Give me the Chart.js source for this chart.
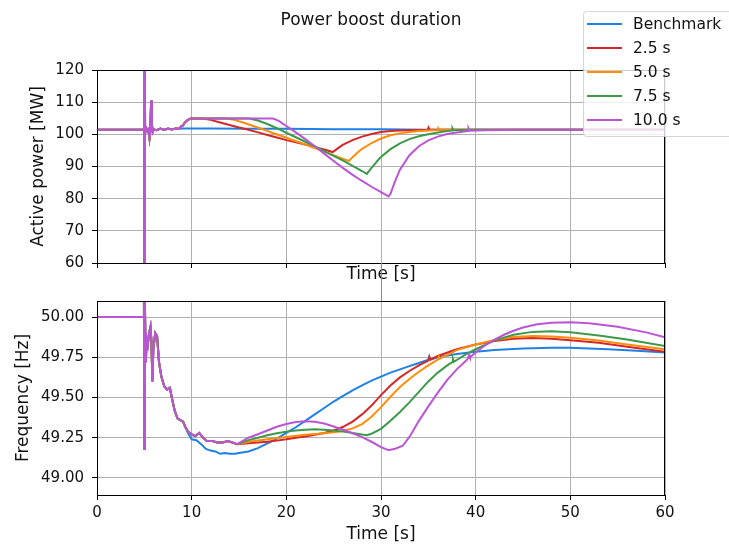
<!DOCTYPE html>
<html>
<head>
<meta charset="utf-8">
<script src="https://cdn.jsdelivr.net/npm/chart.js@4.4.1/dist/chart.umd.min.js"></script>
<style>
  html, body { margin: 0; padding: 0; background: #ffffff; }
  #wrap { position: relative; width: 729px; height: 544px; }
  canvas { position: absolute; left: 0; top: 0; }
</style>
</head>
<body>
<div id="wrap">
  <canvas id="c1" width="729" height="544"></canvas>
  <canvas id="c2" width="729" height="544"></canvas>
</div>
<script>
// ---------------- DATA ----------------
const chartTitle = 'Power boost duration';
const seriesNames = ['Benchmark', '2.5 s', '5.0 s', '7.5 s', '10.0 s'];
const timeTicks = [0, 10, 20, 30, 40, 50, 60];
const powerTicks = [60, 70, 80, 90, 100, 110, 120];
const freqTicks = [49.00, 49.25, 49.50, 49.75, 50.00];

// common transient (all series)
const transientTime  = [0, 4.95, 4.98, 5.0, 5.03, 5.08, 5.2, 5.32, 5.45, 5.55, 5.62, 5.72, 5.8, 5.9, 6.0, 6.3, 6.7, 7.1, 7.5, 7.9, 8.3, 8.7];
const transientPower = [101.4, 101.4, 101.0, 30, 150, 101.5, 102.0, 100.9, 101.5, 98.8, 100.5, 110.5, 103.0, 100.8, 101.5, 101.3, 101.8, 101.4, 101.8, 101.5, 101.8, 101.7];

const freqTransientTime = [0, 4.93, 4.96, 4.99, 5.02, 5.1, 5.17, 5.22, 5.35, 5.5, 5.65, 5.75, 5.85, 5.95, 6.15, 6.35, 6.55, 6.8, 7.1, 7.4, 7.7, 7.9, 8.2, 8.5, 8.8, 9.1, 9.3];
const freqTransient     = [50.0, 50.0, 50.2, 49.18, 50.3, 49.9, 49.72, 49.85, 49.82, 49.9, 49.94, 49.85, 49.6, 49.8, 49.9, 49.88, 49.72, 49.63, 49.57, 49.55, 49.56, 49.5, 49.42, 49.37, 49.36, 49.35, 49.32];

// boost rise, common to all boosted series
const boostRiseTime  = [8.9, 9.1, 9.3, 9.6, 9.9];
const boostRisePower = [102.6, 102.8, 103.8, 104.5, 104.9];
const boostFreqTime  = [9.6, 10.0, 10.4, 10.8, 11.2, 11.6, 12.2, 12.7, 13.3, 13.8, 14.3, 14.8];
const boostFreq      = [49.29, 49.27, 49.26, 49.28, 49.25, 49.23, 49.23, 49.22, 49.22, 49.23, 49.22, 49.21];

// Benchmark
const benchPowerTime = [9.0, 12, 16, 20, 25, 30, 34.9, 35.0, 35.1, 40, 50, 60];
const benchPower     = [101.8, 101.8, 101.75, 101.7, 101.6, 101.55, 101.45, 101.9, 101.4, 101.4, 101.4, 101.4];
const benchFreqTime  = [9.6, 10.0, 10.5, 11, 11.5, 12, 12.5, 13, 13.5, 14, 14.6, 15, 16, 17, 18, 19, 20, 21, 22, 23, 24, 25, 26, 27, 28, 29, 30, 31, 32, 33, 34, 35, 35.1, 35.2, 36, 38, 40, 42, 45, 48, 50, 54, 57, 60];
const benchFreq      = [49.28, 49.24, 49.235, 49.21, 49.18, 49.17, 49.165, 49.15, 49.155, 49.15, 49.15, 49.155, 49.165, 49.185, 49.215, 49.245, 49.28, 49.315, 49.355, 49.395, 49.435, 49.475, 49.51, 49.545, 49.575, 49.605, 49.63, 49.655, 49.675, 49.695, 49.715, 49.735, 49.755, 49.735, 49.75, 49.77, 49.785, 49.795, 49.805, 49.81, 49.81, 49.8, 49.79, 49.78];

// 2.5 s
const b25PowerTime = [11.1, 12, 13, 14, 15, 16, 17, 18, 19, 20, 21, 22, 23, 24, 24.9, 25.5, 26, 27, 28, 29, 30, 31, 32, 33, 34, 35, 35.05, 35.15, 60];
const b25Power     = [104.9, 104.5, 103.7, 102.9, 102.1, 101.4, 100.6, 99.8, 99.0, 98.2, 97.5, 96.8, 96.0, 95.3, 94.5, 95.8, 96.8, 98.2, 99.3, 100.1, 100.7, 101.0, 101.2, 101.3, 101.35, 101.4, 101.9, 101.4, 101.4];
const b25FreqTime  = [16, 17, 18, 19, 20, 21, 22, 23, 24, 25, 26, 27, 28, 29, 30, 31, 32, 33, 34, 35, 35.1, 35.2, 36, 38, 40, 42, 44, 46, 48, 50, 53, 56, 60];
const b25Freq      = [49.215, 49.22, 49.225, 49.232, 49.24, 49.25, 49.258, 49.268, 49.28, 49.295, 49.318, 49.35, 49.395, 49.45, 49.515, 49.575, 49.625, 49.665, 49.7, 49.73, 49.75, 49.735, 49.758, 49.8, 49.83, 49.852, 49.865, 49.87, 49.866, 49.856, 49.84, 49.815, 49.785];

// 5.0 s
const b50PowerTime = [13.6, 14.5, 15.5, 16.5, 17.5, 18.5, 19.5, 20.5, 21.5, 22.5, 23.5, 24.5, 25.5, 26.6, 27, 27.5, 28, 29, 30, 31, 32, 33, 34, 35, 36, 36.05, 36.15, 60];
const b50Power     = [104.9, 104.5, 103.6, 102.6, 101.6, 100.5, 99.5, 98.4, 97.4, 96.3, 95.2, 94.1, 92.9, 91.7, 92.9, 94.3, 95.5, 97.3, 98.7, 99.7, 100.3, 100.7, 101.0, 101.2, 101.35, 101.9, 101.4, 101.4];
const b50FreqTime  = [16, 18, 20, 22, 24, 25, 26, 27, 28, 29, 30, 31, 32, 33, 34, 35, 36, 36.1, 36.2, 38, 40, 42, 44, 46, 48, 50, 53, 56, 60];
const b50Freq      = [49.225, 49.24, 49.255, 49.268, 49.278, 49.284, 49.292, 49.308, 49.335, 49.38, 49.44, 49.505, 49.565, 49.615, 49.66, 49.7, 49.735, 49.755, 49.74, 49.795, 49.83, 49.858, 49.876, 49.882, 49.88, 49.872, 49.855, 49.83, 49.8];

// 7.5 s
const b75PowerTime = [16.1, 17, 18, 19, 20, 21, 22, 23, 24, 25, 26, 27, 28, 28.5, 29, 29.9, 31, 32, 33, 34, 35, 36, 37, 37.5, 37.55, 37.65, 40, 60];
const b75Power     = [104.9, 104.3, 103.2, 101.9, 100.5, 99.1, 97.7, 96.3, 94.8, 93.3, 91.8, 90.2, 88.6, 87.7, 89.6, 92.7, 95.4, 97.2, 98.5, 99.4, 100.0, 100.6, 101.0, 101.2, 101.9, 101.3, 101.4, 101.4];
const b75FreqTime  = [16, 17, 18, 19, 20, 21, 22, 23, 24, 25, 26, 27, 28, 28.5, 29, 30, 31, 32, 33, 34, 35, 36, 37, 37.5, 37.6, 37.7, 39, 40, 42, 44, 46, 48, 50, 53, 56, 60];
const b75Freq      = [49.235, 49.25, 49.265, 49.278, 49.288, 49.295, 49.3, 49.302, 49.3, 49.295, 49.288, 49.28, 49.27, 49.266, 49.275, 49.305, 49.355, 49.41, 49.47, 49.535, 49.6, 49.655, 49.7, 49.72, 49.74, 49.722, 49.77, 49.8, 49.855, 49.89, 49.908, 49.912, 49.905, 49.885, 49.86, 49.82];

// 10.0 s
const b100PowerTime = [18.6, 19.2, 20, 21, 22, 23, 24, 25, 26, 27, 28, 29, 30, 30.8, 31, 31.5, 32, 33, 34, 35, 36, 37, 38, 39.2, 39.25, 39.35, 41, 45, 60];
const b100Power     = [104.9, 104.2, 102.6, 100.6, 98.5, 96.3, 94.0, 91.7, 89.5, 87.4, 85.5, 83.7, 82.0, 80.7, 81.5, 85.5, 89.0, 93.5, 96.3, 98.1, 99.3, 100.1, 100.6, 101.0, 101.8, 101.1, 101.3, 101.4, 101.4];
const b100FreqTime  = [16, 17, 18, 19, 20, 21, 22, 23, 24, 25, 26, 27, 28, 29, 30, 30.8, 31.5, 32.3, 33, 33.5, 34, 35, 36, 37, 38, 39, 39.2, 39.3, 39.4, 40, 41, 42, 43, 44, 45, 46.5, 48, 50, 52, 55, 58, 60];
const b100Freq      = [49.25, 49.272, 49.295, 49.318, 49.335, 49.348, 49.353, 49.35, 49.338, 49.32, 49.3, 49.278, 49.254, 49.225, 49.192, 49.172, 49.182, 49.2, 49.255, 49.305, 49.355, 49.445, 49.53, 49.61, 49.675, 49.73, 49.745, 49.765, 49.75, 49.78, 49.825, 49.86, 49.89, 49.915, 49.935, 49.955, 49.965, 49.968, 49.962, 49.94, 49.905, 49.875];

// ---------------- STYLE ----------------
const seriesColors = ['#1f80e6', '#d62728', '#ff8c0a', '#3c9a4a', '#bb55d6'];
const FONT = "'DejaVu Sans', 'Liberation Sans', sans-serif";
Chart.defaults.font.family = FONT;
Chart.defaults.color = '#111111';

function pts(times, vals) { return times.map((t, i) => ({ x: t, y: vals[i] })); }
function join() { return [].concat(...arguments); }

const powerSeries = [
  pts(join(transientTime, benchPowerTime), join(transientPower, benchPower)),
  pts(join(transientTime, boostRiseTime, b25PowerTime), join(transientPower, boostRisePower, b25Power)),
  pts(join(transientTime, boostRiseTime, b50PowerTime), join(transientPower, boostRisePower, b50Power)),
  pts(join(transientTime, boostRiseTime, b75PowerTime), join(transientPower, boostRisePower, b75Power)),
  pts(join(transientTime, boostRiseTime, b100PowerTime), join(transientPower, boostRisePower, b100Power))
];
const freqSeries = [
  pts(join(freqTransientTime, benchFreqTime), join(freqTransient, benchFreq)),
  pts(join(freqTransientTime, boostFreqTime, b25FreqTime), join(freqTransient, boostFreq, b25Freq)),
  pts(join(freqTransientTime, boostFreqTime, b50FreqTime), join(freqTransient, boostFreq, b50Freq)),
  pts(join(freqTransientTime, boostFreqTime, b75FreqTime), join(freqTransient, boostFreq, b75Freq)),
  pts(join(freqTransientTime, boostFreqTime, b100FreqTime), join(freqTransient, boostFreq, b100Freq))
];

function makeDatasets(series) {
  return series.map((d, i) => ({
    label: seriesNames[i],
    data: d,
    borderColor: seriesColors[i],
    borderWidth: 2,
    pointRadius: 0,
    tension: 0,
    fill: false,
    order: series.length - 1 - i
  }));
}

const framePlugin = {
  id: 'frame',
  afterDraw(chart) {
    const { ctx, chartArea: a } = chart;
    ctx.save();
    ctx.strokeStyle = '#000000';
    ctx.lineWidth = 1;
    ctx.strokeRect(Math.round(a.left) + 0.5, Math.round(a.top) + 0.5, Math.round(a.right - a.left) - 1, Math.round(a.bottom - a.top));
    ctx.restore();
  }
};

const titleLegendPlugin = {
  id: 'titleLegend',
  afterDraw(chart) {
    const ctx = chart.ctx;
    ctx.save();
    ctx.fillStyle = '#111111';
    ctx.font = '17px ' + FONT;
    ctx.textAlign = 'center';
    ctx.textBaseline = 'middle';
    ctx.fillText(chartTitle, 371, 21);
    // legend
    const bx = 583.5, by = 11.5, bw = 170, bh = 125;
    ctx.fillStyle = 'rgba(255,255,255,0.8)';
    ctx.strokeStyle = 'rgba(204,204,204,0.8)';
    ctx.lineWidth = 1;
    ctx.beginPath();
    ctx.roundRect(bx, by, bw, bh, 3);
    ctx.fill();
    ctx.stroke();
    ctx.font = '15.5px ' + FONT;
    ctx.textAlign = 'left';
    seriesNames.forEach((name, i) => {
      const y = 24 + i * 24;
      ctx.strokeStyle = seriesColors[i];
      ctx.lineWidth = 2;
      ctx.beginPath();
      ctx.moveTo(587, y);
      ctx.lineTo(622, y);
      ctx.stroke();
      ctx.fillStyle = '#111111';
      ctx.fillText(name, 633, y + 1);
    });
    ctx.restore();
  }
};

const connectorPlugin = {
  id: 'connector',
  afterDraw(chart) {
    const ctx = chart.ctx;
    const x = Math.round(chart.scales.x.getPixelForValue(30)) + 0.5;
    ctx.save();
    ctx.strokeStyle = '#8a8a8a';
    ctx.lineWidth = 1;
    ctx.beginPath();
    ctx.moveTo(x, 263);
    ctx.lineTo(x, 301);
    ctx.stroke();
    ctx.restore();
  }
};

function xScale(showLabels, boxHeight, titlePad) {
  return {
    type: 'linear', min: 0, max: 60,
    afterBuildTicks(s) { s.ticks = timeTicks.map(v => ({ value: v })); },
    afterFit(s) { s.height = boxHeight; },
    ticks: {
      font: { size: 15 }, padding: 4, maxRotation: 0,
      callback: v => showLabels ? String(v) : ''
    },
    grid: { color: '#b0b0b0', lineWidth: 1, tickColor: '#000000', tickLength: 5, drawTicks: true },
    border: { display: false },
    title: { display: true, text: 'Time [s]', font: { size: 17, lineHeight: 1 }, padding: titlePad, color: '#111111' }
  };
}
function yScale(min, max, ticksArr, fmt, label, titleTop) {
  return {
    type: 'linear', min: min, max: max,
    afterBuildTicks(s) { s.ticks = ticksArr.map(v => ({ value: v })); },
    afterFit(s) { s.width = 97; },
    ticks: { font: { size: 15 }, padding: 8, callback: v => fmt(v) },
    grid: { color: '#b0b0b0', lineWidth: 1, tickColor: '#000000', tickLength: 5 },
    border: { display: false },
    title: { display: true, text: label, font: { size: 17, lineHeight: 1.2 }, padding: { top: titleTop, bottom: 0 }, color: '#111111' }
  };
}

const baseOpts = {
  responsive: false,
  animation: false,
  events: [],
  plugins: { legend: { display: false }, tooltip: { enabled: false }, title: { display: false } }
};

new Chart(document.getElementById('c1'), {
  type: 'line',
  data: { datasets: makeDatasets(powerSeries) },
  options: Object.assign({}, baseOpts, {
    layout: { padding: { left: 0, top: 70, right: 64, bottom: 259 } },
    scales: {
      x: xScale(false, 22, { top: 0, bottom: 1.5 }),
      y: yScale(60, 120, powerTicks, v => String(v), 'Active power [MW]', 28)
    }
  }),
  plugins: [framePlugin, titleLegendPlugin]
});

new Chart(document.getElementById('c2'), {
  type: 'line',
  data: { datasets: makeDatasets(freqSeries) },
  options: Object.assign({}, baseOpts, {
    layout: { padding: { left: 0, top: 301, right: 64, bottom: 0 } },
    scales: {
      x: xScale(true, 49, { top: 0, bottom: 0.5 }),
      y: yScale(48.894, 50.1, freqTicks, v => Number(v).toFixed(2), 'Frequency [Hz]', 13)
    }
  }),
  plugins: [framePlugin, connectorPlugin]
});
</script>
</body>
</html>
